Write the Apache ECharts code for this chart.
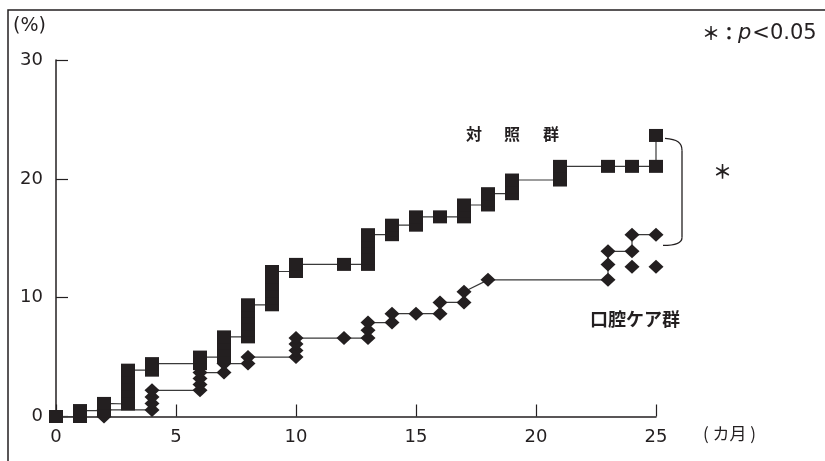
<!DOCTYPE html>
<html>
<head>
<meta charset="utf-8">
<script src="https://cdn.jsdelivr.net/npm/echarts@6/dist/echarts.min.js"></script>
<style>
  html, body { margin: 0; padding: 0; background: #fff; }
  #chart { width: 825px; height: 461px; }
</style>
</head>
<body>
<div id="chart"></div>
<script>
// 対照群: month and cumulative incidence (%) of each plotted point
const controlMonth = [0, 1, 1, 2, 2, 3, 3, 3, 3, 3, 3, 4, 4, 6, 6, 7, 7, 7, 7,
  8, 8, 8, 8, 8, 8, 9, 9, 9, 9, 9, 9, 10, 10, 12, 13, 13, 13, 13, 13, 13,
  14, 14, 14, 15, 15, 16, 17, 17, 17, 18, 18, 18, 19, 19, 19, 21, 21, 21,
  23, 24, 25, 25];
const controlRate = [0, 0, 0.5, 0.5, 1.1, 1.05, 1.6, 2.15, 2.75, 3.3, 3.9, 3.9, 4.45, 4.45, 5.0, 5.0, 5.6, 6.15, 6.7,
  6.7, 7.25, 7.8, 8.35, 8.9, 9.4, 9.4, 10.0, 10.6, 11.15, 11.7, 12.2, 12.2, 12.8, 12.8, 12.8, 13.3, 13.8, 14.3, 14.8, 15.3,
  15.3, 15.7, 16.1, 16.1, 16.8, 16.8, 16.8, 17.3, 17.8, 17.8, 18.25, 18.75, 18.75, 19.35, 19.9, 19.9, 20.5, 21.05,
  21.05, 21.05, 21.05, 23.65];

// 口腔ケア群
const oralMonth = [2, 2, 4, 4, 4, 4, 6, 6, 6, 6, 7, 7, 8, 8, 10, 10, 10, 10, 12, 13, 13, 13,
  14, 14, 15, 16, 16, 17, 17, 18, 23, 23, 23, 24, 24, 25];
const oralRate = [0, 0.55, 0.55, 1.1, 1.65, 2.2, 2.2, 2.7, 3.2, 3.7, 3.7, 4.45, 4.45, 5.0, 5.0, 5.55, 6.1, 6.6, 6.6, 6.6, 7.25, 7.9,
  7.9, 8.65, 8.65, 8.65, 9.6, 9.6, 10.5, 11.5, 11.5, 12.8, 13.9, 13.9, 15.3, 15.3];
// separate points not joined to the step line
const oralExtraMonth = [24, 25];
const oralExtraRate = [12.6, 12.6];

const yTicks = [0, 10, 20, 30];
const xTicks = [0, 5, 10, 15, 20, 25];

const pairs = (xs, ys) => xs.map((x, i) => [x, ys[i]]);
const INK = '#231f20';
const JP = '"Noto Sans CJK JP", "Noto Sans", sans-serif';

const chart = echarts.init(document.getElementById('chart'), null, { renderer: 'canvas' });

chart.setOption({
  animation: false,
  backgroundColor: '#fff',
  textStyle: { fontFamily: '"DejaVu Sans", sans-serif', color: INK },
  grid: { left: 56, right: 169, top: 60, bottom: 44.5, containLabel: false },
  xAxis: {
    type: 'value', min: xTicks[0], max: xTicks[xTicks.length - 1], interval: 5,
    axisLine: { lineStyle: { color: INK, width: 1.5 } },
    axisTick: { inside: true, length: 12, lineStyle: { color: INK, width: 1.2 } },
    axisLabel: { margin: 12, fontSize: 18, color: INK, fontFamily: '"DejaVu Sans", sans-serif' },
    splitLine: { show: false }
  },
  yAxis: {
    type: 'value', min: yTicks[0], max: yTicks[yTicks.length - 1], interval: 10,
    axisLine: { show: true, lineStyle: { color: INK, width: 1.5 } },
    axisTick: { show: true, inside: true, length: 12, lineStyle: { color: INK, width: 1.2 } },
    axisLabel: { margin: 13, fontSize: 18, color: INK, fontFamily: '"DejaVu Sans", sans-serif' },
    splitLine: { show: false }
  },
  series: [
    {
      name: '口腔ケア群', type: 'line', z: 2,
      data: pairs(oralMonth, oralRate),
      symbol: 'diamond', symbolSize: [15, 14], showAllSymbol: true,
      itemStyle: { color: INK, opacity: 1 },
      lineStyle: { color: '#3a3a3a', width: 1.2 }
    },
    {
      name: '口腔ケア群（別点）', type: 'scatter', z: 2,
      data: pairs(oralExtraMonth, oralExtraRate),
      symbol: 'diamond', symbolSize: [15, 14],
      itemStyle: { color: INK, opacity: 1 }
    },
    {
      name: '対照群', type: 'line', z: 3,
      data: pairs(controlMonth, controlRate),
      symbol: 'rect', symbolSize: [14, 13], showAllSymbol: true,
      itemStyle: { color: INK, opacity: 1 },
      lineStyle: { color: '#3a3a3a', width: 1.2 }
    }
  ]
});

// annotations: frame, group names, significance bracket
const bracketTop = chart.convertToPixel({ gridIndex: 0 }, [25, 23.65]);
const bracketBot = chart.convertToPixel({ gridIndex: 0 }, [25, 14.4]);
const bx = bracketTop[0] + 26;
const lineStyle = { stroke: INK, lineWidth: 1.3, fill: null };

chart.setOption({
  graphic: [
    { type: 'polyline', silent: true,
      shape: { points: [[8, 461], [8, 10], [825, 10]] },
      style: { stroke: INK, lineWidth: 1.5, fill: null } },
    { type: 'text', x: 13, y: 17,
      style: { text: '(%)', font: '19px "DejaVu Sans"', fill: INK } },
    { type: 'text', x: 702, y: 23,
      style: {
        text: '{a|＊}{b|：}{p|p}{c|<0.05}',
        rich: {
          a: { font: 'bold 18px "Noto Sans CJK JP"', fill: INK },
          b: { font: 'bold 18px "Noto Sans CJK JP"', fill: INK },
          p: { font: 'italic 21px "DejaVu Sans"', fill: INK, padding: [0, 1, 0, 0] },
          c: { font: '21px "DejaVu Sans"', fill: INK }
        }
      } },
    { type: 'text', x: 466, y: 126, style: { text: '対', font: 'bold 16px ' + JP, fill: INK } },
    { type: 'text', x: 504, y: 126, style: { text: '照', font: 'bold 16px ' + JP, fill: INK } },
    { type: 'text', x: 543, y: 126, style: { text: '群', font: 'bold 16px ' + JP, fill: INK } },
    { type: 'text', x: 590, y: 310, style: { text: '口腔ケア群', font: 'bold 18px ' + JP, fill: INK } },
    { type: 'text', x: 703, y: 425, style: { text: '( カ月 )', font: '17px ' + JP, fill: INK } },
    { type: 'text', x: 713, y: 162, style: { text: '＊', font: 'bold 19px ' + JP, fill: INK } },
    { type: 'bezierCurve', silent: true,
      shape: { x1: bracketTop[0] + 9, y1: bracketTop[1] + 3,
               cpx1: bx - 5, cpy1: bracketTop[1] + 4, cpx2: bx, cpy2: bracketTop[1] + 7,
               x2: bx, y2: bracketTop[1] + 15 },
      style: lineStyle },
    { type: 'line', silent: true,
      shape: { x1: bx, y1: bracketTop[1] + 15, x2: bx, y2: bracketBot[1] - 8 },
      style: lineStyle },
    { type: 'bezierCurve', silent: true,
      shape: { x1: bx, y1: bracketBot[1] - 8,
               cpx1: bx, cpy1: bracketBot[1] - 2, cpx2: bx - 7, cpy2: bracketBot[1],
               x2: bracketTop[0] + 7, y2: bracketBot[1] },
      style: lineStyle }
  ]
});
</script>
</body>
</html>
